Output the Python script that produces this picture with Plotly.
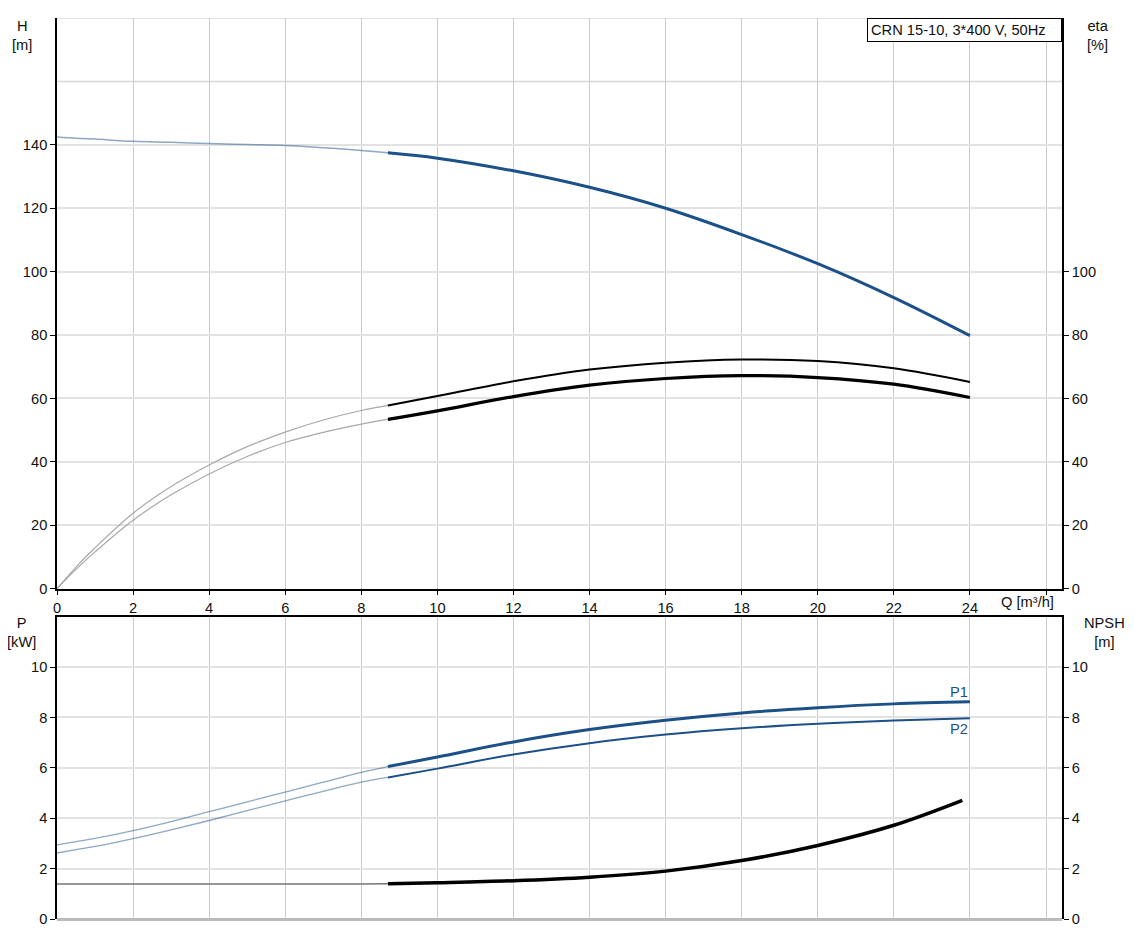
import plotly.graph_objects as go

# ---------------- data ----------------
q_thin = [0, 0.5, 1, 2, 3, 4, 5, 6, 7, 8, 8.7]
q_thick = [8.7, 10, 12, 14, 16, 18, 20, 22, 24]

h_thin = [142.5, 142.1, 141.8, 141.1, 140.8, 140.4, 140.1, 139.8, 139.1, 138.2, 137.5]
h_thick = [137.5, 135.8, 131.8, 126.6, 120.0, 111.7, 102.5, 91.8, 79.8]

eta_up_thin = [0, 6.8, 12.9, 23.8, 32.2, 39.0, 44.8, 49.4, 53.2, 56.2, 57.8]
eta_up_thick = [57.8, 60.8, 65.4, 69.1, 71.3, 72.3, 71.8, 69.5, 65.2]
eta_lo_thin = [0, 6.1, 11.6, 21.6, 29.6, 36.2, 41.7, 46.1, 49.3, 51.9, 53.4]
eta_lo_thick = [53.4, 56.1, 60.6, 64.2, 66.3, 67.2, 66.6, 64.5, 60.3]

p1_thin = [2.94, 3.07, 3.2, 3.51, 3.87, 4.26, 4.65, 5.04, 5.43, 5.82, 6.05]
p1_thick = [6.05, 6.43, 7.03, 7.52, 7.89, 8.18, 8.39, 8.54, 8.62]
p2_thin = [2.62, 2.75, 2.88, 3.19, 3.54, 3.91, 4.3, 4.69, 5.07, 5.43, 5.62]
p2_thick = [5.62, 5.97, 6.53, 6.98, 7.32, 7.57, 7.75, 7.88, 7.97]

npsh_thin = [1.39, 1.39, 1.39, 1.39, 1.39, 1.39, 1.39, 1.39, 1.39, 1.39, 1.4]
q_npsh = [8.7, 10, 12, 14, 16, 18, 20, 22, 23.8]
npsh_thick = [1.4, 1.44, 1.52, 1.66, 1.9, 2.32, 2.92, 3.72, 4.71]

x_ticks = list(range(0, 27, 2))
x_ticktext = [str(v) for v in range(0, 25, 2)] + [""]
h_ticks = list(range(0, 141, 20))
eta_ticks = list(range(0, 101, 20))
p_ticks = list(range(0, 11, 2))
npsh_ticks = list(range(0, 11, 2))

title_text = "CRN 15-10, 3*400 V, 50Hz"

# ---------------- styling ----------------
BLUE = "#1b5089"
BLUE_THIN = "rgba(27,80,137,0.5)"
GRAY_THIN = "#a8a8a8"
FONT = "Liberation Sans, Arial, sans-serif"
FS = 14.67

fig = go.Figure()

def add(x, y, xa, ya, color, width):
    fig.add_trace(go.Scatter(x=x, y=y, xaxis=xa, yaxis=ya, mode="lines",
                             line=dict(color=color, width=width, shape="spline", smoothing=1.0),
                             hoverinfo="skip", showlegend=False))

# top plot
add(q_thin, h_thin, "x", "y", BLUE_THIN, 1.5)
add(q_thick, h_thick, "x", "y", BLUE, 3)
add(q_thin, eta_up_thin, "x", "y2", GRAY_THIN, 1.2)
add(q_thick, eta_up_thick, "x", "y2", "black", 2)
add(q_thin, eta_lo_thin, "x", "y2", GRAY_THIN, 1.2)
add(q_thick, eta_lo_thick, "x", "y2", "black", 3.2)

# bottom plot
add(q_thin, p1_thin, "x2", "y3", BLUE_THIN, 1.3)
add(q_thick, p1_thick, "x2", "y3", BLUE, 3)
add(q_thin, p2_thin, "x2", "y3", BLUE_THIN, 1.3)
add(q_thick, p2_thick, "x2", "y3", BLUE, 2)
add(q_thin, npsh_thin, "x2", "y4", "#777777", 1.5)
add(q_npsh, npsh_thick, "x2", "y4", "black", 3.5)

XR = [0, 26.42]
tickfont = dict(family=FONT, size=FS, color="#111")
common_y = dict(showline=True, linecolor="black", linewidth=1.5, ticks="outside",
                ticklen=5, tickcolor="black", tickfont=tickfont,
                fixedrange=True)

fig.update_layout(
    width=1118, height=929,
    margin=dict(l=49, r=64, t=10, b=16),
    paper_bgcolor="white", plot_bgcolor="white",
    font=dict(family=FONT, size=FS, color="#111"),
    xaxis=dict(domain=[0, 1], anchor="y", range=XR, tickvals=x_ticks, ticktext=x_ticktext,
               showgrid=True, gridcolor="#cccccc", gridwidth=1,
               showline=True, linecolor="black", linewidth=1.5, ticks="outside",
               ticklen=5, tickcolor="black", tickfont=tickfont, zeroline=False),
    yaxis=dict(domain=[0.3666, 1], anchor="x", range=[0, 180], tickvals=h_ticks,
               showgrid=True, gridcolor="#e2e2e2", gridwidth=1.5, zeroline=False, **common_y),
    yaxis2=dict(overlaying="y", side="right", anchor="x", range=[0, 180], tickvals=eta_ticks,
                showgrid=False, zeroline=False, **common_y),
    xaxis2=dict(domain=[0, 1], anchor="y3", range=XR, tickvals=x_ticks, side="top",
                showticklabels=False, ticks="", showgrid=True, gridcolor="#cccccc",
                showline=True, linecolor="black", linewidth=1.5, zeroline=False),
    yaxis3=dict(domain=[0, 0.3355], anchor="x2", range=[0, 12], tickvals=p_ticks,
                showgrid=True, gridcolor="#e2e2e2", gridwidth=1.5,
                zeroline=True, zerolinecolor="#bbbbbb", zerolinewidth=2.5, **common_y),
    yaxis4=dict(overlaying="y3", side="right", anchor="x2", range=[0, 12], tickvals=npsh_ticks,
                showgrid=False, zeroline=False, **common_y),
)

# extra gridlines in top plot (160, 180) without ticks
for yv in (160, 180):
    fig.add_shape(type="line", xref="paper", yref="y", x0=0, x1=1, y0=yv, y1=yv,
                  line=dict(color="#d8d8d8", width=1.5), layer="below")

ann_font = dict(family=FONT, size=FS, color="#111")
annotations = [
    dict(text="H<br>[m]", x=-0.035, y=0.981),
    dict(text="eta<br>[%]", x=1.036, y=0.981),
    dict(text="P<br>[kW]", x=-0.035, y=0.318),
    dict(text="NPSH<br>[m]", x=1.042, y=0.318),
]
for a in annotations:
    fig.add_annotation(xref="paper", yref="paper", showarrow=False, font=ann_font,
                       xanchor="center", yanchor="middle", **a)

fig.add_annotation(xref="paper", yref="paper", x=0.966, y=0.352, text="Q [m³/h]",
                   showarrow=False, font=ann_font, xanchor="center", yanchor="middle")

fig.add_annotation(xref="paper", yref="paper", x=1, y=1, xanchor="right", yanchor="top",
                   text=title_text, showarrow=False, font=ann_font, align="left",
                   bgcolor="white", bordercolor="black", borderwidth=1, borderpad=3,
                   width=187, height=16)

fig.add_annotation(xref="x2", yref="y3", x=23.7, y=9.03, text="P1", showarrow=False,
                   font=dict(family=FONT, size=FS, color=BLUE), xanchor="center", yanchor="middle")
fig.add_annotation(xref="x2", yref="y3", x=23.7, y=7.56, text="P2", showarrow=False,
                   font=dict(family=FONT, size=FS, color=BLUE), xanchor="center", yanchor="middle")

fig.write_html("out.html")
